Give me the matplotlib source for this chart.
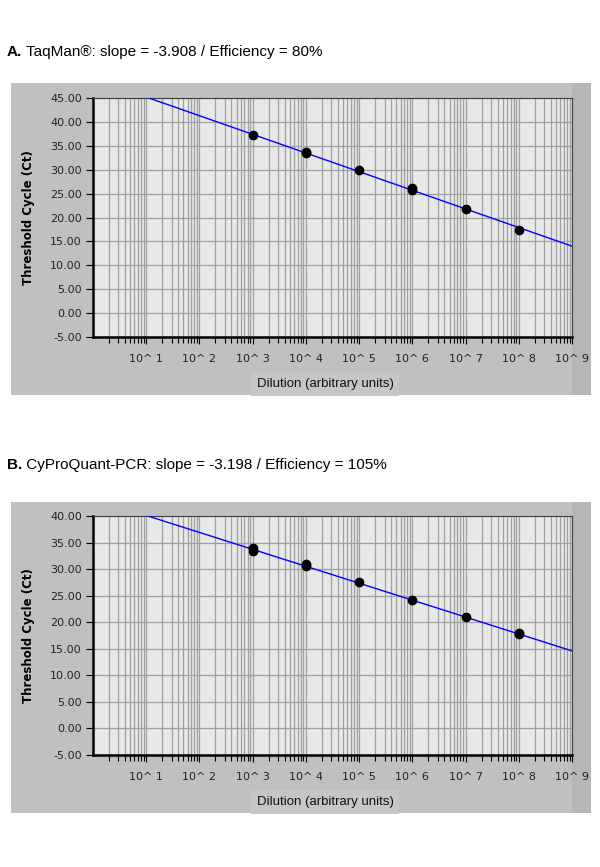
import numpy as np
import matplotlib
matplotlib.use("Agg")
from matplotlib import pyplot as plt
from matplotlib.ticker import LogLocator, FixedLocator, NullFormatter

plt.rcParams["font.family"] = ["Liberation Sans", "DejaVu Sans"]

# ---- data ----
dilution_a = [1e3, 1e4, 1e4, 1e5, 1e6, 1e6, 1e7, 1e8]
ct_a = [37.2, 33.8, 33.4, 29.9, 26.2, 25.8, 21.8, 17.3]
fit_x_a = [10 ** 1.05, 1e9]
fit_y_a = [45.0, 14.0]

dilution_b = [1e3, 1e3, 1e4, 1e4, 1e5, 1e6, 1e7, 1e8, 1e8]
ct_b = [34.0, 33.4, 31.0, 30.6, 27.6, 24.2, 20.9, 18.0, 17.7]
fit_x_b = [10 ** 1.03, 1e9]
fit_y_b = [40.0, 14.6]

x_exponents = [1, 2, 3, 4, 5, 6, 7, 8, 9]
ylim_a = (-5, 45)
ylim_b = (-5, 40)

title_a = ("A.", "TaqMan®: slope = -3.908 / Efficiency = 80%")
title_b = ("B.", "CyProQuant-PCR: slope = -3.198 / Efficiency = 105%")

W, H = 600, 867
fig = plt.figure(figsize=(W / 100, H / 100), dpi=100)
fig.patch.set_facecolor("white")

TICK_FONT = ["DejaVu Sans"]


def px(x0, y0, x1, y1):
    # pixel box (top-left origin) -> figure fraction rect
    return [x0 / W, 1 - y1 / H, (x1 - x0) / W, (y1 - y0) / H]


def panel(outer, inner, title_y, title, xs, ys, fx, fy, ylim, label_y):
    # gray outer frame
    bg = fig.add_axes(px(*outer))
    bg.set_facecolor("#c0c0c0")
    bg.set_xticks([])
    bg.set_yticks([])
    for s in bg.spines.values():
        s.set_visible(False)
    bg.set_xlim(0, 1)
    bg.axvspan(0.968, 1.0, color="#b6b6b6", lw=0)

    ax = fig.add_axes(px(*inner))
    ax.set_facecolor("#e8e8e8")
    ax.set_xscale("log")
    ax.set_xlim(1, 1e9)
    ax.set_ylim(*ylim)
    yt = np.arange(ylim[0], ylim[1] + 0.1, 5)
    ax.set_yticks(yt)
    ax.set_yticklabels([f"{v:.2f}" for v in yt])
    ax.xaxis.set_major_locator(FixedLocator([10.0 ** e for e in x_exponents]))
    ax.set_xticklabels([f"10^ {e}" for e in x_exponents])
    ax.xaxis.set_minor_locator(LogLocator(base=10, subs=np.arange(2, 10), numticks=20))
    ax.xaxis.set_minor_formatter(NullFormatter())
    ax.grid(True, which="both", axis="x", color="#a0a0a0", lw=0.9)
    ax.grid(True, which="major", axis="y", color="#a0a0a0", lw=0.9)
    ax.set_axisbelow(True)
    ax.tick_params(axis="both", which="major", direction="out", length=5, width=0.8,
                   labelsize=8, colors="black", pad=3)
    ax.tick_params(axis="x", which="major", length=5, pad=7)
    ax.tick_params(axis="x", which="minor", direction="out", length=4, width=0.8)
    for lab in ax.get_xticklabels() + ax.get_yticklabels():
        lab.set_color("#222222")
        lab.set_family(TICK_FONT)
    ax.spines["left"].set_linewidth(1.8)
    ax.spines["bottom"].set_linewidth(1.8)
    ax.spines["top"].set_color("#404040")
    ax.spines["right"].set_color("#404040")

    ax.plot(fx, fy, color="#0000ff", lw=1.0, zorder=3)
    ax.plot(xs, ys, "o", color="black", ms=6, zorder=4)

    ax.set_ylabel("Threshold Cycle (Ct)", fontsize=8.5, fontweight="bold",
                  family=TICK_FONT)
    ax.yaxis.set_label_coords(-0.122, 0.5)
    fig.text(325 / W, 1 - label_y / H, "Dilution (arbitrary units)", fontsize=9.5,
             ha="center", va="center", color="#111111",
             bbox=dict(boxstyle="square,pad=0.45", fc="#c6c6c6", ec="none"))

    t = fig.text(7 / W, 1 - title_y / H, title[0], fontsize=11, fontweight="bold",
                 va="center", ha="left")
    fig.add_artist(plt.Annotation(" " + title[1], xy=(1, 0.5), xycoords=t,
                                  va="center", ha="left", fontsize=11))
    return ax


panel((11, 83, 591, 395), (93, 98, 572, 337), 52, title_a,
      dilution_a, ct_a, fit_x_a, fit_y_a, ylim_a, 384)
panel((11, 502, 591, 813), (93, 516, 572, 755), 465, title_b,
      dilution_b, ct_b, fit_x_b, fit_y_b, ylim_b, 802)

fig.savefig("out.png", dpi=100, facecolor="white")
